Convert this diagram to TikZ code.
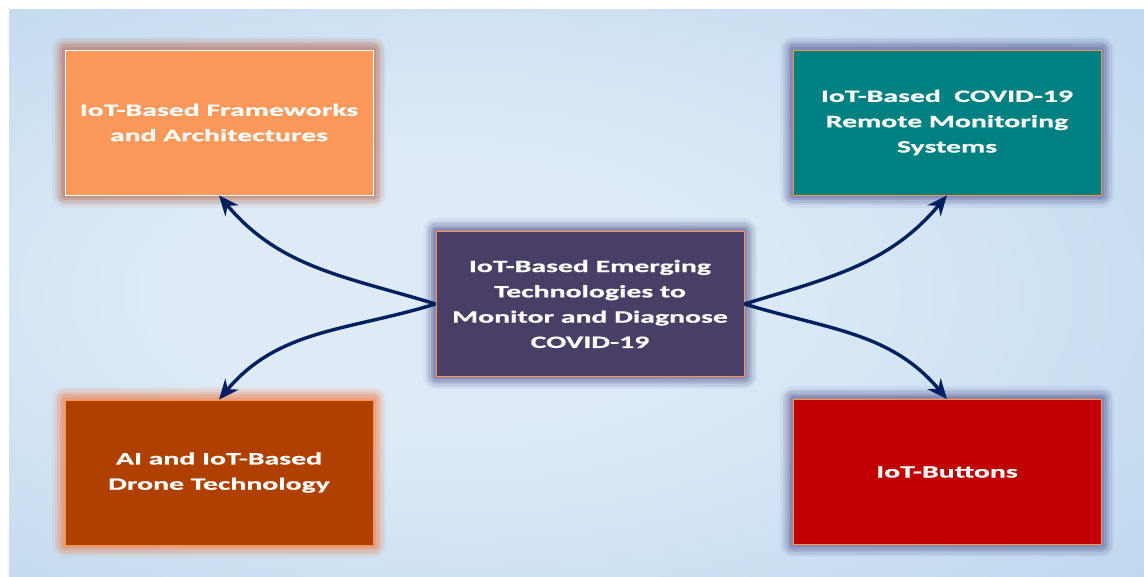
\documentclass[tikz,border=0pt]{standalone}
\usepackage{fontspec}
\setmainfont{Carlito}[FakeStretch=1.72,FakeBold=0.8]
\usetikzlibrary{arrows.meta,positioning}
\definecolor{bgin}{RGB}{222,235,247}
\definecolor{bgout}{RGB}{170,203,234}
\definecolor{orangebox}{RGB}{252,152,89}
\definecolor{tealbox}{RGB}{0,128,128}
\definecolor{corebox}{RGB}{73,63,102}
\definecolor{dronebox}{RGB}{176,64,0}
\definecolor{redbox}{RGB}{192,0,0}
\definecolor{rim}{RGB}{247,150,70}
\definecolor{arrowblue}{RGB}{0,32,96}
\definecolor{warmglow}{RGB}{185,110,85}
\definecolor{hotglow}{RGB}{240,125,70}
\definecolor{coolglow}{RGB}{95,95,150}
\pgfdeclareradialshading{bgshade}{\pgfpoint{-8bp}{0bp}}{color(0bp)=(bgin); color(12bp)=(bgin); color(55bp)=(bgout)}
\tikzset{
  topic/.style={minimum width=308pt, minimum height=145pt, inner sep=0pt,
    align=center, text=white, line width=0.8pt,
    font=\fontsize{17.3}{25.3}\selectfont\bfseries},
  halo/.style={
    preaction={draw=#1, draw opacity=0.08, line width=26pt, line join=round},
    preaction={draw=#1, draw opacity=0.13, line width=21pt, line join=round},
    preaction={draw=#1, draw opacity=0.18, line width=16pt, line join=round},
    preaction={draw=#1, draw opacity=0.25, line width=11pt, line join=round},
    preaction={draw=#1, draw opacity=0.3, line width=6pt, line join=round}},
  link/.style={draw=arrowblue, line width=3.4pt, -{Stealth[length=20pt,width=17pt]}}
}
\begin{document}
\begin{tikzpicture}[x=1pt,y=1pt]
      \useasboundingbox (0,0) rectangle (1144,577);
      \shade[shading=bgshade] (9,0) rectangle (1144,567);
      % central topic
      \node[topic, fill=corebox, draw=rim, halo=coolglow] (core) at (590,273)
        {IoT-Based Emerging\\Technologies to\\Monitor and Diagnose\\COVID-19};
      % branches
      \node[topic, fill=orangebox, draw=white, halo=warmglow] (frame) at (219,454.5)
        {IoT-Based Frameworks\\and Architectures};
      \node[topic, fill=tealbox, draw=rim, halo=coolglow] (remote) at (947,454.5)
        {IoT-Based~ COVID-19\\Remote Monitoring\\Systems};
      \node[topic, fill=dronebox, draw=rim, halo=hotglow] (drone) at (219,104.5)
        {AI and IoT-Based\\Drone Technology};
      \node[topic, fill=redbox, draw=rim, halo=coolglow] (buttons) at (947,105)
        {IoT-Buttons};
      \draw[link] (core.west) to[out=163,in=-50] (frame.south);
      \draw[link] (core.west) to[out=197,in=50] (drone.north);
      \draw[link] (core.east) to[out=17,in=-130] (remote.south);
      \draw[link] (core.east) to[out=-17,in=130] (buttons.north);
    \end{tikzpicture}
\end{document}
